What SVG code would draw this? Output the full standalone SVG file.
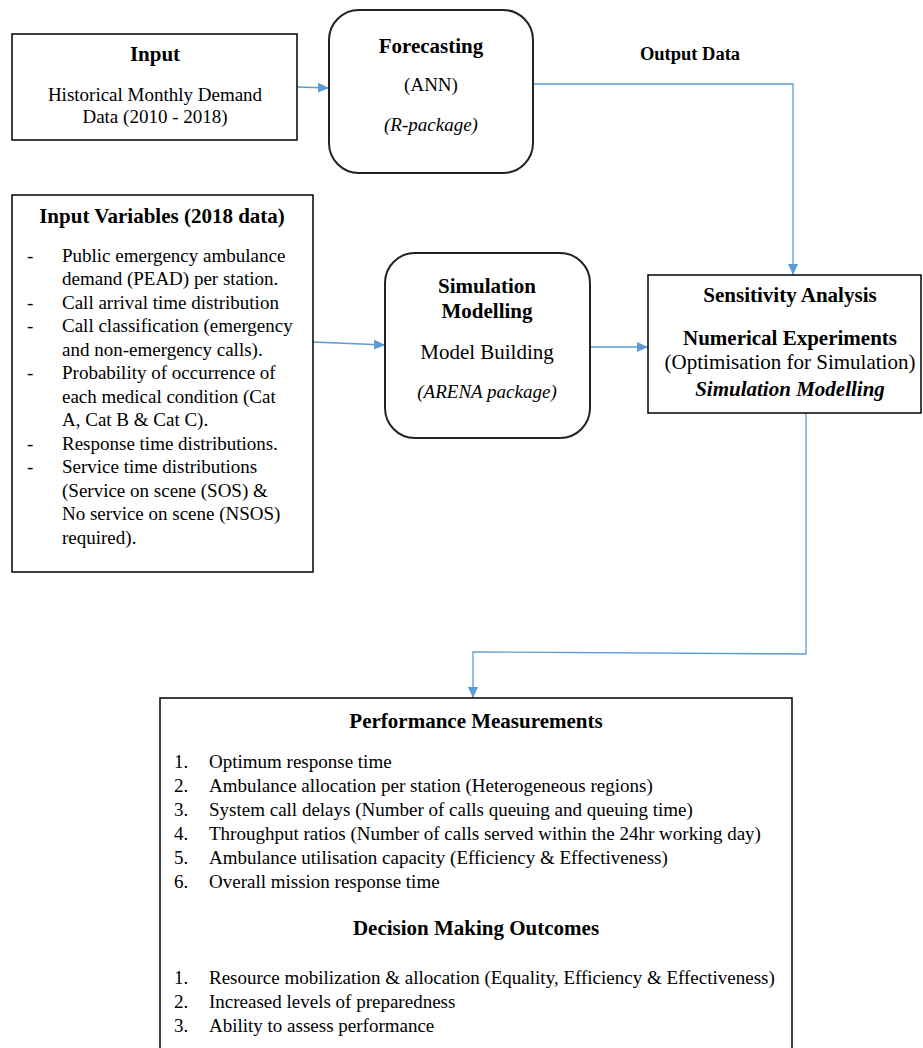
<svg xmlns="http://www.w3.org/2000/svg" width="923" height="1048" viewBox="0 0 923 1048">
<style>
text{font-family:"Liberation Serif","Times New Roman",serif;fill:#000}
.h{font-size:21px;font-weight:bold}
.b{font-size:19px}
.m{font-size:21px}
.c{text-anchor:middle}
.i{font-style:italic}
.box{fill:#fff;stroke:#000;stroke-width:1.5}
.rbox{fill:#fff;stroke:#222;stroke-width:2}
.con{fill:none;stroke:#5B9BD5;stroke-width:1.3}
</style>
<defs>
<marker id="ah" markerUnits="userSpaceOnUse" markerWidth="12" markerHeight="10" refX="11" refY="5" orient="auto">
<path d="M0,0 L11,5 L0,10 z" fill="#5B9BD5"/>
</marker>
</defs>
<rect width="923" height="1048" fill="#fff"/>
<g id="connectors">
<path class="con" d="M297,87 L329,88" marker-end="url(#ah)"/>
<path class="con" d="M533,84 L793,84 L793,275" marker-end="url(#ah)"/>
<path class="con" d="M313,342 L385,345" marker-end="url(#ah)"/>
<path class="con" d="M590,347 L648,347" marker-end="url(#ah)"/>
<path class="con" d="M806,413 L806,654 L473,652 L473,698" marker-end="url(#ah)"/>
</g>
<g id="input">
<rect class="box" x="12" y="34" width="285" height="106"/>
<text class="h c" x="155" y="61">Input</text>
<text class="b c" x="155" y="101">Historical Monthly Demand</text>
<text class="b c" x="155" y="123">Data (2010 - 2018)</text>
</g>
<g id="forecasting">
<rect class="rbox" x="329" y="10" width="204" height="163" rx="30" ry="30"/>
<text class="h c" x="431" y="53">Forecasting</text>
<text class="b c" x="431" y="91">(ANN)</text>
<text class="b c i" x="431" y="131">(R-package)</text>
</g>
<g id="output-label">
<text class="c" x="690" y="60" style="font-size:18.5px;font-weight:bold">Output Data</text>
</g>
<g id="input-variables">
<rect class="box" x="12" y="195" width="301" height="377"/>
<text class="h c" x="162" y="223">Input Variables (2018 data)</text>
<g class="b">
<text x="27" y="262">-</text><text x="62" y="262">Public emergency ambulance</text>
<text x="62" y="285">demand (PEAD) per station.</text>
<text x="27" y="309">-</text><text x="62" y="309">Call arrival time distribution</text>
<text x="27" y="332">-</text><text x="62" y="332">Call classification (emergency</text>
<text x="62" y="356">and non-emergency calls).</text>
<text x="27" y="379">-</text><text x="62" y="379">Probability of occurrence of</text>
<text x="62" y="403">each medical condition (Cat</text>
<text x="62" y="426">A, Cat B &amp; Cat C).</text>
<text x="27" y="450">-</text><text x="62" y="450">Response time distributions.</text>
<text x="27" y="473">-</text><text x="62" y="473">Service time distributions</text>
<text x="62" y="497">(Service on scene (SOS) &amp;</text>
<text x="62" y="520">No service on scene (NSOS)</text>
<text x="62" y="544">required).</text>
</g>
</g>
<g id="simulation">
<rect class="rbox" x="385" y="253" width="205" height="185" rx="30" ry="30"/>
<text class="h c" x="487" y="293">Simulation</text>
<text class="h c" x="487" y="318">Modelling</text>
<text class="m c" x="487" y="359">Model Building</text>
<text class="b c i" x="487" y="398">(ARENA package)</text>
</g>
<g id="sensitivity">
<rect class="box" x="648" y="275" width="273" height="138"/>
<text class="h c" x="790" y="302">Sensitivity Analysis</text>
<text class="h c" x="790" y="345">Numerical Experiments</text>
<text class="m c" x="790" y="369">(Optimisation for Simulation)</text>
<text class="h c i" x="790" y="396">Simulation Modelling</text>
</g>
<g id="performance">
<rect class="box" x="160" y="698" width="632" height="360"/>
<text class="h c" x="476" y="728">Performance Measurements</text>
<g class="b">
<text x="174" y="768">1.</text><text x="209" y="768">Optimum response time</text>
<text x="174" y="792">2.</text><text x="209" y="792">Ambulance allocation per station (Heterogeneous regions)</text>
<text x="174" y="816">3.</text><text x="209" y="816">System call delays (Number of calls queuing and queuing time)</text>
<text x="174" y="840">4.</text><text x="209" y="840">Throughput ratios (Number of calls served within the 24hr working day)</text>
<text x="174" y="864">5.</text><text x="209" y="864">Ambulance utilisation capacity (Efficiency &amp; Effectiveness)</text>
<text x="174" y="888">6.</text><text x="209" y="888">Overall mission response time</text>
</g>
<text class="h c" x="476" y="935">Decision Making Outcomes</text>
<g class="b">
<text x="174" y="984">1.</text><text x="209" y="984">Resource mobilization &amp; allocation (Equality, Efficiency &amp; Effectiveness)</text>
<text x="174" y="1008">2.</text><text x="209" y="1008">Increased levels of preparedness</text>
<text x="174" y="1032">3.</text><text x="209" y="1032">Ability to assess performance</text>
</g>
</g>
</svg>
